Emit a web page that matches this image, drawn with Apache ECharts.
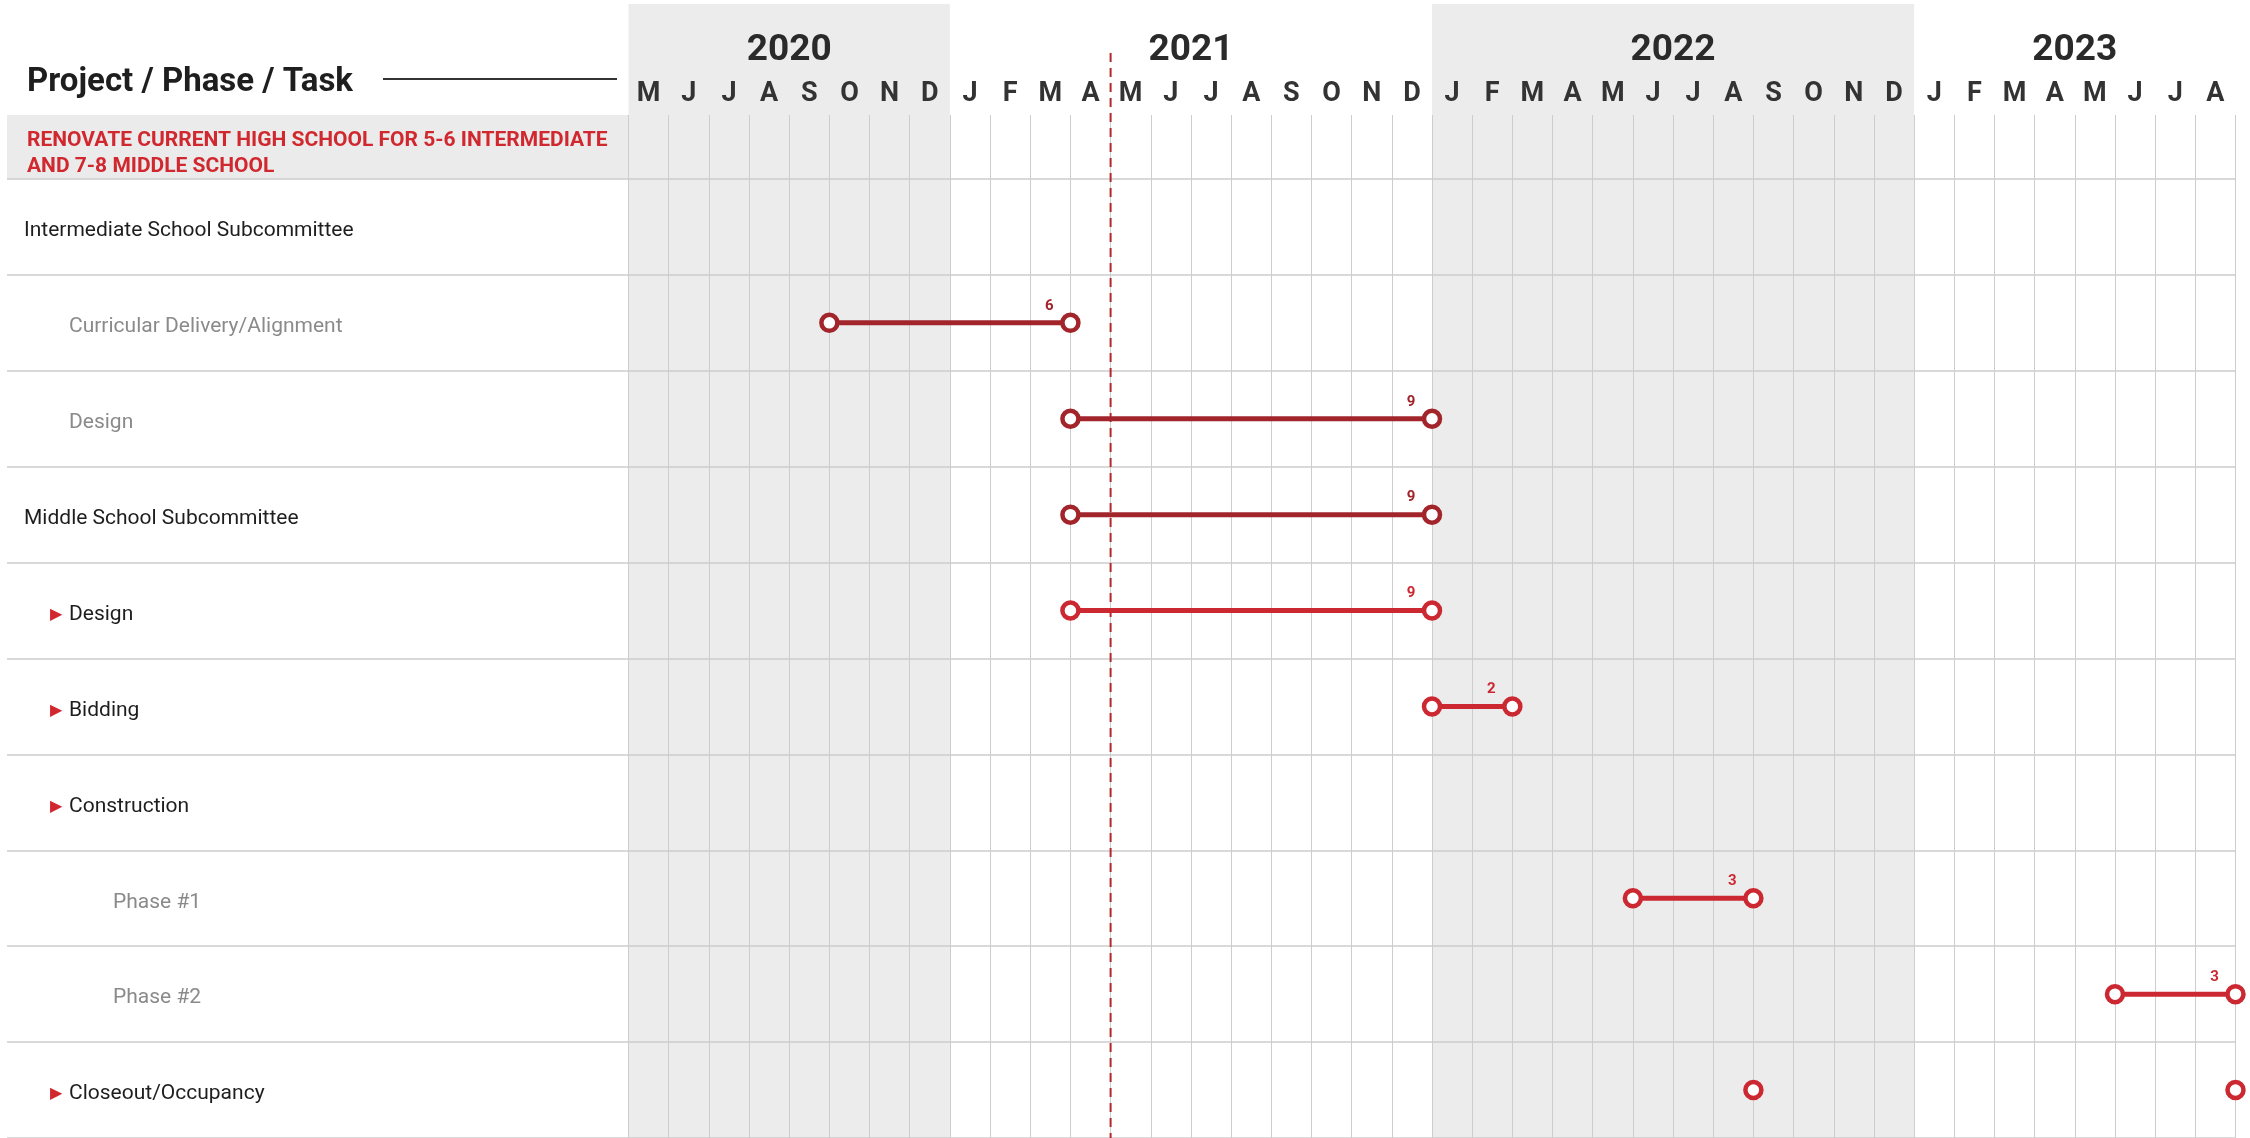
<!DOCTYPE html>
<html>
<head>
<meta charset="utf-8">
<script src="https://cdn.jsdelivr.net/npm/echarts@6/dist/echarts.min.js"></script>
<style>
  html, body { margin: 0; padding: 0; background: #fff; }
  #chart { width: 2250px; height: 1138px; }
</style>
</head>
<body>
<div id="chart"></div>
<script>
// timeline: month 0 = May 2020, month 40 = end of Aug 2023
const months = ['M','J','J','A','S','O','N','D',
  'J','F','M','A','M','J','J','A','S','O','N','D',
  'J','F','M','A','M','J','J','A','S','O','N','D',
  'J','F','M','A','M','J','J','A']
const years = ['2020', '2021', '2022', '2023']
const yearMonthCount = [8, 12, 12, 8]
const shadedYears = [0, 2]

const rows = ['Intermediate School Subcommittee', 'Curricular Delivery/Alignment', 'Design',
  'Middle School Subcommittee', 'Design', 'Bidding', 'Construction',
  'Phase #1', 'Phase #2', 'Closeout/Occupancy']
// 0 = group, 1 = sub task, 2 = arrow item, 3 = sub phase
const rowLevel = [0, 1, 1, 0, 2, 2, 2, 3, 3, 2]

const taskRow = [1, 2, 3, 4, 5, 7, 8]
const taskStart = [5, 11, 11, 11, 20, 25, 37]
const taskEnd = [11, 20, 20, 20, 22, 28, 40]
const taskMonths = [6, 9, 9, 9, 2, 3, 3]
const milestoneRow = 9
const milestoneAt = [28, 40]
const todayAt = 12

const darkRed = '#a3252c'
const red = '#cc2832'
const gridLine = '#cdcdcd'
const font = 'Roboto'

// grid positions
const L = 628.5, W = 1607, rowTop = 179, rowH = 96.1

// year spans
let acc = 0
const yearSpan = yearMonthCount.map(n => { const s = [acc, acc + n]; acc += n; return s })
const yearCenter = yearSpan.map(s => (s[0] + s[1]) / 2)

const chart = echarts.init(document.getElementById('chart'))

const dot = c => ({ color: '#fff', borderColor: c, borderWidth: 4.5, opacity: 1 })

const taskSeries = taskRow.map((r, i) => {
  const c = r < 4 ? darkRed : red
  return {
    type: 'line', xAxisIndex: 5, yAxisIndex: 4, z: 5,
    symbol: 'circle', symbolSize: 16,
    lineStyle: { color: c, width: 5 },
    itemStyle: dot(c),
    label: { show: false },
    data: [
      [taskStart[i], r],
      { value: [taskEnd[i], r], label: {
        show: true, position: 'inside', offset: [-21, -17],
        formatter: String(taskMonths[i]),
        color: c, fontFamily: font, fontWeight: 'bold', fontSize: 15 } }
    ]
  }
})

const rowFormatter = (v, i) => {
  const lv = rowLevel[i]
  if (lv === 0) return '{d0|' + v + '}'
  if (lv === 1) return '{g1|' + v + '}'
  if (lv === 2) return '{arr|▶}{d2|' + v + '}'
  return '{g3|' + v + '}'
}

const txt = { fontFamily: font, fontSize: 21 }

chart.setOption({
  animation: false,
  backgroundColor: '#fff',
  title: [
    { text: 'Project / Phase / Task', left: 22, top: 61,
      textStyle: { fontFamily: font, fontWeight: 'bold', fontSize: 33, color: '#1e1e1e' } },
    { text: 'RENOVATE CURRENT HIGH SCHOOL FOR 5-6 INTERMEDIATE\nAND 7-8 MIDDLE SCHOOL', left: 22, top: 123,
      textStyle: { fontFamily: font, fontWeight: 'bold', fontSize: 21, lineHeight: 26, color: '#d0282e' } }
  ],
  graphic: [
    { type: 'rect', z: -1, shape: { x: 7, y: 115, width: L - 7, height: 64 }, style: { fill: '#ebebeb' } },
    { type: 'line', shape: { x1: 383, y1: 79, x2: 617, y2: 79 }, style: { stroke: '#333', lineWidth: 2 } }
  ],
  grid: [
    { left: L, width: W, top: 4, bottom: 0 },
    { left: L, width: W, top: 53, bottom: 0 },
    { left: L, width: W, top: 115, height: 64 },
    { left: 7, width: L - 7, top: rowTop, height: rowH * rows.length },
    { left: L, width: W, top: rowTop, height: rowH * rows.length }
  ],
  xAxis: [
    { gridIndex: 0, type: 'value', min: 0, max: 40, show: false },
    { gridIndex: 1, type: 'value', min: 0, max: 40, show: false },
    { gridIndex: 2, type: 'category', data: months, position: 'top', boundaryGap: true, z: 1,
      axisLine: { show: false }, axisTick: { show: false },
      axisLabel: { interval: 0, margin: 7, color: '#333', fontFamily: font, fontWeight: 'bold', fontSize: 27 },
      splitLine: { show: true, interval: 0, lineStyle: { color: gridLine, width: 1 } } },
    { gridIndex: 2, type: 'value', min: 0, max: 40, position: 'top',
      axisLine: { show: false }, axisTick: { show: false }, splitLine: { show: false },
      axisLabel: { customValues: yearCenter, margin: 46, color: '#2a2a2a', fontFamily: font, fontWeight: 'bold', fontSize: 37,
        formatter: v => years[yearCenter.indexOf(v)] || '' } },
    { gridIndex: 3, type: 'value', min: 0, max: 1, show: false },
    { gridIndex: 4, type: 'value', min: 0, max: 40, interval: 1, z: 1,
      axisLine: { show: false }, axisTick: { show: false }, axisLabel: { show: false },
      splitLine: { show: true, lineStyle: { color: gridLine, width: 1 } } }
  ],
  yAxis: [
    { gridIndex: 0, type: 'value', min: 0, max: 1, show: false },
    { gridIndex: 1, type: 'value', min: 0, max: 1, show: false },
    { gridIndex: 2, type: 'value', min: 0, max: 1, show: false },
    { gridIndex: 3, type: 'category', data: rows, inverse: true, z: 1,
      axisLine: { show: false }, axisTick: { show: false },
      splitLine: { show: true, interval: 0, lineStyle: { color: gridLine, width: 1.5 } },
      axisLabel: { inside: true, margin: 0, interval: 0, formatter: rowFormatter,
        rich: {
          d0: Object.assign({ color: '#1e1e1e', padding: [8, 0, 0, 17] }, txt),
          g1: Object.assign({ color: '#8a8a8a', padding: [8, 0, 0, 62] }, txt),
          arr: { color: '#d0282e', fontFamily: 'DejaVu Sans', fontSize: 16, width: 19, padding: [8, 0, 0, 43] },
          d2: Object.assign({ color: '#1e1e1e', padding: [8, 0, 0, 0] }, txt),
          g3: Object.assign({ color: '#8a8a8a', padding: [8, 0, 0, 106] }, txt)
        } } },
    { gridIndex: 4, type: 'category', data: rows, inverse: true, z: 1,
      axisLine: { show: false }, axisTick: { show: false }, axisLabel: { show: false },
      splitLine: { show: true, interval: 0, lineStyle: { color: gridLine, width: 1.5 } } }
  ],
  series: [
    { // shaded years
      type: 'custom', xAxisIndex: 0, yAxisIndex: 0, z: 0, silent: true,
      data: shadedYears.map(k => yearSpan[k]),
      renderItem: (params, api) => {
        const a = api.coord([api.value(0), 1])
        const b = api.coord([api.value(1), 0])
        return { type: 'rect', shape: { x: a[0], y: a[1], width: b[0] - a[0], height: b[1] - a[1] },
          style: { fill: '#ececec' } }
      }
    },
    { // today line
      type: 'custom', xAxisIndex: 1, yAxisIndex: 1, z: 4, silent: true,
      data: [[todayAt]],
      renderItem: (params, api) => {
        const a = api.coord([api.value(0), 1])
        const b = api.coord([api.value(0), 0])
        return { type: 'line', shape: { x1: a[0], y1: a[1], x2: b[0], y2: b[1] },
          style: { stroke: '#b3282c', lineWidth: 2, lineDash: [9, 6] } }
      }
    },
    ...taskSeries,
    {
      type: 'scatter', xAxisIndex: 5, yAxisIndex: 4, z: 5,
      symbol: 'circle', symbolSize: 16,
      itemStyle: dot(red),
      data: milestoneAt.map(m => [m, milestoneRow])
    }
  ]
})
</script>
</body>
</html>
